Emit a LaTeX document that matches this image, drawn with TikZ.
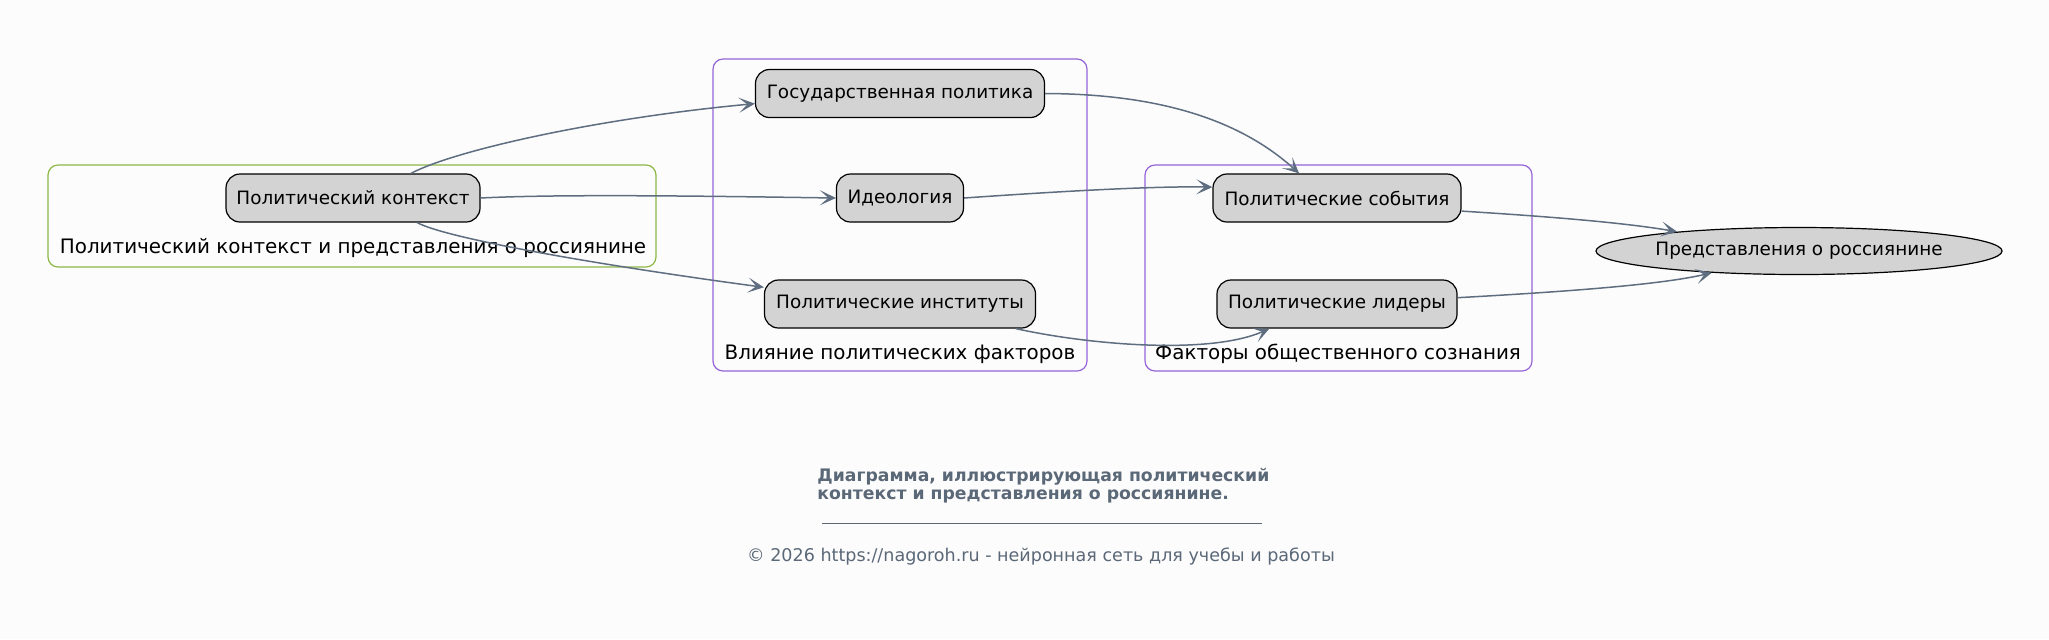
\documentclass[tikz,border=0pt]{standalone}
\usepackage{fontspec}
\setmainfont{DejaVu Sans}
\usetikzlibrary{arrows.meta,shapes.geometric}
\definecolor{bgc}{RGB}{253,252,252}
\definecolor{edgec}{RGB}{94,110,128}
\definecolor{capc}{RGB}{90,104,120}
\definecolor{greenc}{RGB}{140,184,70}
\definecolor{purplec}{RGB}{150,100,215}
\definecolor{nodefill}{RGB}{211,211,211}
\begin{document}
\begin{tikzpicture}[x=0.5pt,y=-0.5pt,
  box/.style={draw=black, fill=nodefill, rounded corners=7pt, minimum height=24pt, inner sep=0pt, font=\fontsize{9.2}{11}\selectfont, line width=0.6pt},
  oval/.style={ellipse, draw=black, fill=nodefill, inner sep=0pt, font=\fontsize{9.2}{11}\selectfont, line width=0.6pt},
  clusterbox/.style={rounded corners=5pt, line width=0.6pt},
  clusterlabel/.style={font=\fontsize{9.95}{12}\selectfont, inner sep=0pt},
  conn/.style={draw=edgec, line width=0.75pt, -{Stealth[length=8pt,width=7.5pt,inset=4.2pt]}}
]
\useasboundingbox (0,0) rectangle (2049,639);
\fill[bgc] (0,0) rectangle (2049,639);

% clusters
\draw[clusterbox, draw=greenc] (48,165) rectangle (656,267);
\node[clusterlabel] (l1) at (353,248) {Политический контекст и представления о россиянине};
\draw[clusterbox, draw=purplec] (713,59) rectangle (1087,371);
\node[clusterlabel] (l2) at (900,354) {Влияние политических факторов};
\draw[clusterbox, draw=purplec] (1145,165) rectangle (1532,371);
\node[clusterlabel] (l3) at (1338,354) {Факторы общественного сознания};

% nodes
\node[box, minimum width=127pt] (pk) at (353,198) {Политический контекст};
\node[box, minimum width=144.5pt] (gp) at (900,93.5) {Государственная политика};
\node[box, minimum width=63.5pt] (id) at (900,198) {Идеология};
\node[box, minimum width=135.5pt] (pi) at (900,304) {Политические институты};
\node[box, minimum width=124pt] (ps) at (1337,198) {Политические события};
\node[box, minimum width=120pt] (pl) at (1337,304) {Политические лидеры};
\node[oval, minimum width=200.5pt, minimum height=23.5pt] (pr) at (1799,251) {Представления о россиянине};

% connectors
\draw[conn] (pk.23) .. controls (455,150) and (600,118) .. (gp.184);
\draw[conn] (pk.east) .. controls (560,194) and (700,196) .. (id.west);
\draw[conn] (pk.-21) .. controls (450,240) and (620,268) .. (pi.173);
\draw[conn] (gp.east) .. controls (1160,94) and (1240,120) .. (ps.147);
\draw[conn] (id.east) .. controls (1050,192) and (1150,186) .. (ps.175);
\draw[conn] (pi.-12) .. controls (1090,345) and (1210,355) .. (pl.200);
\draw[conn] (ps.-6) .. controls (1540,216) and (1620,222) .. (pr.171);
\draw[conn] (pl.3) .. controls (1560,292) and (1660,285) .. (pr.194);

% caption
\node[anchor=west, align=left, text=capc, inner sep=0pt, font=\fontsize{8.63}{9}\selectfont\bfseries] (cap) at (817,486) {Диаграмма, иллюстрирующая политический\\контекст и представления о россиянине.};
\coordinate (u1) at (822,523);
\coordinate (u2) at (1262,523);
\draw[capc, line width=0.4pt] (u1) -- (u2);
\node[text=capc, inner sep=0pt, font=\fontsize{8.77}{10}\selectfont] (foot) at (1041,556) {© 2026 https://nagoroh.ru - нейронная сеть для учебы и работы};
\end{tikzpicture}
\end{document}
